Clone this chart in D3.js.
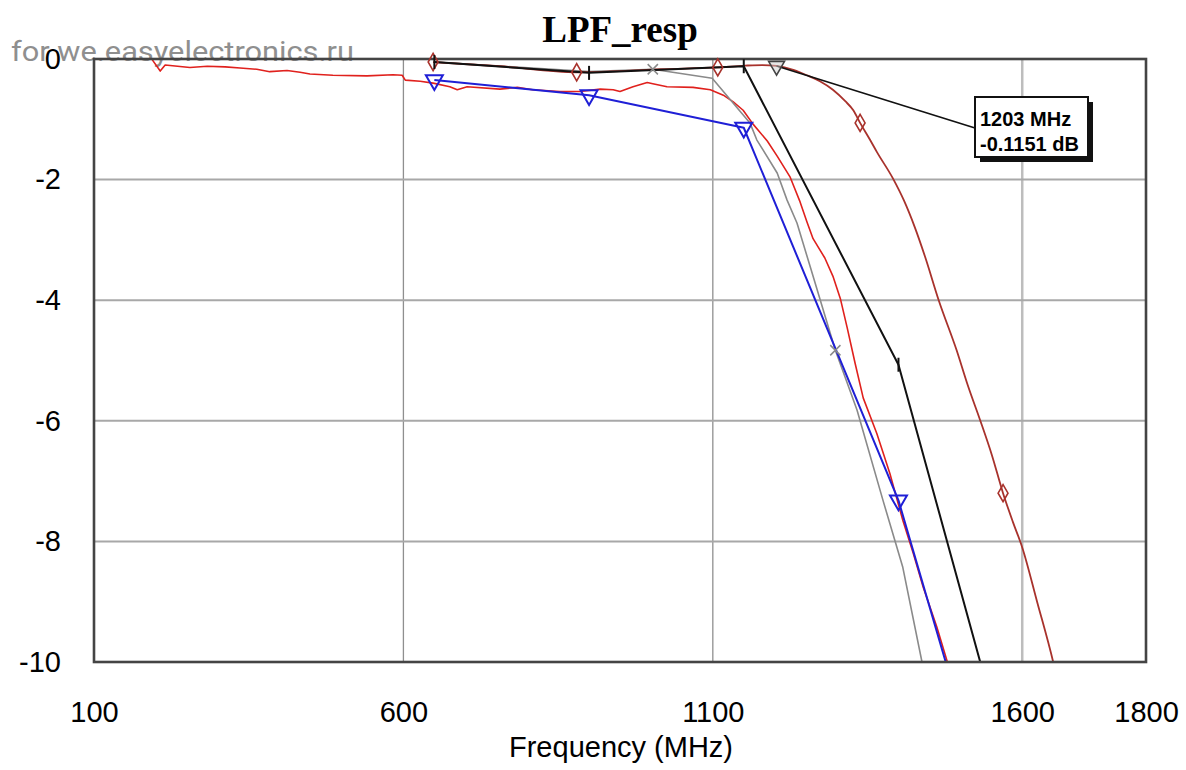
<!DOCTYPE html>
<html><head><meta charset="utf-8">
<script src="https://cdn.jsdelivr.net/npm/d3@7"></script>
<style>html,body{margin:0;padding:0;background:#fff;} svg{display:block;}</style>
</head><body>
<svg id="chart" width="1186" height="770"></svg>
<script>
// ---- data ----
const xTicks = [100, 600, 1100, 1600, 1800];
const yTicks = [0, -2, -4, -6, -8, -10];
const xGrid = [600, 1100, 1600];
const yGrid = [-2, -4, -6, -8];

// measured response (bright red, noisy)
const measuredFreq = [194,207,215,255,283,312,336,363,384,412,433,449,486,541,583,598,603,627,648,675,
  687,703,756,784,809,853,885,918,939,950,971,994,1003,1026,1068,1096,1117,1133,1149,1165,
  1188,1204,1225,1241,1252,1262,1281,1294,1306,1317,1330,1343,1365,1386,1407,1424,1440,1462,1479,1491];
const measuredDb = [-0.01,-0.20,-0.10,-0.14,-0.12,-0.13,-0.15,-0.17,-0.21,-0.19,-0.22,-0.25,-0.27,-0.28,-0.26,-0.27,-0.35,-0.37,-0.40,-0.46,
  -0.51,-0.46,-0.50,-0.47,-0.51,-0.54,-0.54,-0.50,-0.51,-0.54,-0.46,-0.39,-0.41,-0.46,-0.47,-0.51,-0.60,-0.71,-0.85,-1.08,
  -1.36,-1.61,-1.96,-2.37,-2.70,-2.98,-3.30,-3.60,-3.97,-4.45,-5.05,-5.62,-6.21,-6.87,-7.65,-8.20,-8.76,-9.42,-10.0,-10.47];

// blue (triangles)
const blueFreq = [650, 900, 1150, 1400, 1650];
const blueDb = [-0.35, -0.60, -1.14, -7.32, -16.1];

// black (ticks)
const blackFreq = [650, 900, 1150, 1400, 1650];
const blackDb = [-0.05, -0.23, -0.12, -5.07, -14.4];

// gray (x marks)
const grayFreq = [650, 900, 1003, 1099, 1160, 1171, 1204, 1220, 1236, 1259, 1298, 1333, 1375, 1407, 1438, 1451];
const grayDb = [-0.05, -0.21, -0.17, -0.32, -1.06, -1.34, -1.89, -2.34, -2.72, -3.50, -4.83, -5.82, -7.32, -8.43, -10.0, -10.64];

// dark red (diamonds)
const brownFreq = [648, 756, 880, 950, 1015, 1108, 1152, 1180, 1203, 1230, 1252, 1273, 1294, 1314, 1327, 1338, 1354, 1365,
  1391, 1409, 1426, 1443, 1465, 1494, 1512, 1532, 1551, 1569, 1585, 1600, 1624, 1650, 1664];
const brownDb = [-0.05, -0.12, -0.22, -0.20, -0.17, -0.14, -0.11, -0.10, -0.115, -0.18, -0.27, -0.37, -0.51, -0.70, -0.85, -1.06, -1.34, -1.54,
  -1.98, -2.35, -2.78, -3.28, -4.00, -4.83, -5.41, -5.99, -6.57, -7.20, -7.68, -8.10, -9.00, -10.0, -10.64];

// marker positions (MHz)
const blueMarkFreq = [650, 900, 1150, 1400];
const blackMarkFreq = [650, 900, 1150, 1400];
const grayMarkFreq = [1003, 1298];
const brownMarkFreq = [648, 880, 1108, 1338, 1569];

// annotation marker
const markerFreq = 1203;
const markerDb = -0.1151;
const markerLines = ["1203 MHz", "-0.1151 dB"];

// ---- chart ----
const svg = d3.select('#chart');
svg.append('rect').attr('width', 1186).attr('height', 770).attr('fill', '#fff');

const x = d3.scaleLinear().domain([100, 1800]).range([94, 1146]);
const y = d3.scaleLinear().domain([-10, 0]).range([662, 59]);
const [x0, x1] = x.range();
const [yb, yt] = y.range();

// watermark
svg.append('text').attr('x', 11).attr('y', 61)
  .attr('font-family', 'Roboto, "Open Sans", sans-serif').attr('font-size', 27)
  .attr('fill', '#8f8f8f').attr('textLength', 343).attr('lengthAdjust', 'spacingAndGlyphs')
  .text('for we.easyelectronics.ru');

// title
svg.append('text').attr('x', 620).attr('y', 42).attr('text-anchor', 'middle')
  .attr('font-family', '"Liberation Serif", "Times New Roman", serif').attr('font-weight', 'bold')
  .attr('font-size', 37).attr('fill', '#000').text('LPF_resp');

// grid
svg.append('g').selectAll('line').data(xGrid).join('line')
  .attr('x1', d => x(d)).attr('x2', d => x(d)).attr('y1', yt).attr('y2', yb)
  .attr('stroke', d => d === 1600 ? '#bdbdbd' : '#8f8f8f').attr('stroke-width', d => d === 1600 ? 2.5 : 1.3);
svg.append('g').selectAll('line').data(yGrid).join('line')
  .attr('x1', x0).attr('x2', x1).attr('y1', d => y(d)).attr('y2', d => y(d))
  .attr('stroke', '#a8a8a8').attr('stroke-width', 2);

// clip
svg.append('defs').append('clipPath').attr('id', 'plotclip')
  .append('rect').attr('x', x0).attr('y', yt - 6).attr('width', x1 - x0).attr('height', yb - yt + 6);

const lines = svg.append('g').attr('clip-path', 'url(#plotclip)');
const mk = (fr, db) => fr.map((f, i) => [f, db[i]]);
const lineGen = d3.line().x(d => x(d[0])).y(d => y(d[1]));
const smoothGen = d3.line().x(d => x(d[0])).y(d => y(d[1])).curve(d3.curveMonotoneX);

const series = [
  {pts: mk(measuredFreq, measuredDb), color: '#e0211d', w: 1.6, gen: lineGen},
  {pts: mk(grayFreq, grayDb), color: '#8a8a8a', w: 1.6, gen: lineGen},
  {pts: mk(brownFreq, brownDb), color: '#a8322c', w: 1.8, gen: smoothGen},
  {pts: mk(blueFreq, blueDb), color: '#1f1fd6', w: 2, gen: lineGen},
  {pts: mk(blackFreq, blackDb), color: '#111', w: 2, gen: lineGen},
];
series.forEach(s => {
  lines.append('path').attr('d', s.gen(s.pts)).attr('fill', 'none')
    .attr('stroke', s.color).attr('stroke-width', s.w).attr('stroke-linejoin', 'round');
});

// frame
svg.append('rect').attr('x', x0).attr('y', yt).attr('width', x1 - x0).attr('height', yb - yt)
  .attr('fill', 'none').attr('stroke', '#444').attr('stroke-width', 2.6);

// markers
const interp = (fr, db) => f => {
  for (let i = 0; i < fr.length - 1; i++) {
    if (f >= fr[i] && f <= fr[i + 1]) return db[i] + (db[i + 1] - db[i]) * (f - fr[i]) / (fr[i + 1] - fr[i]);
  }
  return f < fr[0] ? db[0] : db[db.length - 1];
};
const blueAt = interp(blueFreq, blueDb), blackAt = interp(blackFreq, blackDb),
      grayAt = interp(grayFreq, grayDb), brownAt = interp(brownFreq, brownDb);

const mg = svg.append('g');
mg.selectAll('.dia').data(brownMarkFreq).join('path')
  .attr('transform', f => `translate(${x(f)},${y(brownAt(f))})`)
  .attr('d', d3.symbol(d3.symbolDiamond, 85)).attr('fill', 'none').attr('stroke', '#a8322c').attr('stroke-width', 1.6);
mg.selectAll('.tri').data(blueMarkFreq).join('path')
  .attr('transform', f => `translate(${x(f)},${y(blueAt(f))}) rotate(180)`)
  .attr('d', d3.symbol(d3.symbolTriangle, 125)).attr('fill', 'none').attr('stroke', '#1f1fd6').attr('stroke-width', 2);
mg.selectAll('.tick').data(blackMarkFreq).join('line')
  .attr('x1', f => x(f)).attr('x2', f => x(f))
  .attr('y1', f => y(blackAt(f)) - 7).attr('y2', f => y(blackAt(f)) + 7)
  .attr('stroke', '#111').attr('stroke-width', 2);
mg.selectAll('.xm').data(grayMarkFreq).join('path')
  .attr('transform', f => `translate(${x(f)},${y(grayAt(f))})`)
  .attr('d', d3.symbol(d3.symbolTimes, 70)).attr('fill', 'none').attr('stroke', '#8a8a8a').attr('stroke-width', 1.5);

// annotation marker + box
const mx = x(markerFreq), my = y(markerDb);
const boxX = 975, boxY = 97, boxW = 113, boxH = 60;
svg.append('line').attr('x1', mx).attr('y1', my).attr('x2', boxX).attr('y2', boxY + boxH / 2 + 1)
  .attr('stroke', '#111').attr('stroke-width', 1.6);
svg.append('path').attr('transform', `translate(${mx},${my}) rotate(180)`)
  .attr('d', d3.symbol(d3.symbolTriangle, 110)).attr('fill', '#d0d0d0').attr('fill-opacity', 0.5)
  .attr('stroke', '#444').attr('stroke-width', 1.6);
svg.append('rect').attr('x', boxX + 5).attr('y', boxY + 5).attr('width', boxW).attr('height', boxH).attr('fill', '#111');
svg.append('rect').attr('x', boxX).attr('y', boxY).attr('width', boxW).attr('height', boxH)
  .attr('fill', '#fff').attr('stroke', '#111').attr('stroke-width', 2);
svg.append('g').selectAll('text').data(markerLines).join('text')
  .attr('x', boxX + 5).attr('y', (d, i) => boxY + 29 + i * 25)
  .attr('font-family', '"Liberation Sans", Arial, sans-serif').attr('font-weight', 'bold')
  .attr('font-size', 20).attr('fill', '#000').text(d => d);

// axes
const fmt = d => String(d);
svg.append('g').attr('transform', `translate(0,${yb})`)
  .call(d3.axisBottom(x).tickValues(xTicks).tickSize(0).tickPadding(39).tickFormat(fmt))
  .call(g => g.select('.domain').remove())
  .attr('font-family', '"Liberation Sans", Arial, sans-serif').attr('font-size', 29)
  .selectAll('text').attr('fill', '#000');
svg.append('g').attr('transform', `translate(${x0},0)`)
  .call(d3.axisLeft(y).tickValues(yTicks).tickSize(0).tickPadding(33).tickFormat(fmt))
  .call(g => g.select('.domain').remove())
  .attr('font-family', '"Liberation Sans", Arial, sans-serif').attr('font-size', 29)
  .selectAll('text').attr('fill', '#000');

svg.append('text').attr('x', 621).attr('y', 757).attr('text-anchor', 'middle')
  .attr('font-family', '"Liberation Sans", Arial, sans-serif').attr('font-size', 29)
  .attr('fill', '#000').text('Frequency (MHz)');
</script>
</body></html>
